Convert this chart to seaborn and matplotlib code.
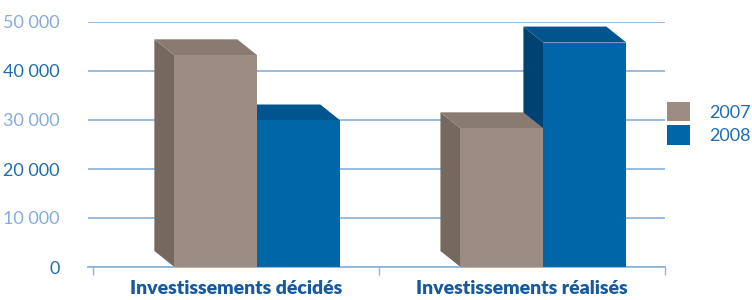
import numpy as np
import pandas as pd
import matplotlib.pyplot as plt
from matplotlib.patches import Polygon, Patch
import seaborn as sns

# data
categories = ["Investissements décidés", "Investissements réalisés"]
years = ["2007", "2008"]
values_2007 = [43200, 28300]
values_2008 = [29900, 45800]
y_ticks = [0, 10000, 20000, 30000, 40000, 50000]
y_tick_labels = ["0", "10 000", "20 000", "30 000", "40 000", "50 000"]

front_colors = {"2007": "#9c8c83", "2008": "#0066a6"}
side_colors = {"2007": "#76685f", "2008": "#004272"}
top_colors = {"2007": "#8a7b72", "2008": "#00558f"}
grid_color = "#8fb5dc"
light_blue = "#86acd9"
dark_blue = "#1f6db0"

df = pd.DataFrame({
    "categorie": categories * 2,
    "annee": [years[0]] * 2 + [years[1]] * 2,
    "valeur": values_2007 + values_2008,
})

sns.set_style("white")
plt.rcParams["font.family"] = ["Lato", "DejaVu Sans"]

fig = plt.figure(figsize=(7.52, 3.0), dpi=100)
ax = fig.add_axes([88 / 752, 33 / 300, 577 / 752, 245 / 300])

sns.barplot(data=df, x="categorie", y="valeur", hue="annee", order=categories,
            hue_order=years, palette=front_colors, width=0.58, dodge=True,
            legend=False, saturation=1, ax=ax, zorder=3)

# fake 3D: shift front faces, add side and top faces
shift = 0.075
dx = 0.07
dy = 3265
for year, cont in zip(years, ax.containers):
    z = 2 if year == "2007" else 1.5
    for p in cont.patches:
        p.set_x(p.get_x() + shift)
        p.set_edgecolor("none")
        x0, w, h = p.get_x(), p.get_width(), p.get_height()
        side = Polygon([(x0, 0), (x0, h), (x0 - dx, h + dy), (x0 - dx, dy)],
                       closed=True, facecolor=side_colors[year], edgecolor="none",
                       zorder=z, clip_on=False)
        top = Polygon([(x0, h), (x0 + w, h), (x0 + w - dx, h + dy), (x0 - dx, h + dy)],
                      closed=True, facecolor=top_colors[year], edgecolor="none",
                      zorder=z, clip_on=False)
        ax.add_patch(side)
        ax.add_patch(top)

ax.set_xlim(-0.517, 1.5)
ax.set_ylim(0, 50000)
ax.set_yticks(y_ticks)
ax.set_yticklabels(y_tick_labels)
ax.set_xticks([0, 1])
ax.set_xticklabels(categories, fontsize=14, fontweight="heavy", color="#17599c")
ax.set_xticks([-0.5, 0.5, 1.5], minor=True)
ax.tick_params(axis="x", which="major", bottom=False, length=0, pad=9)
ax.tick_params(axis="x", which="minor", bottom=True, length=6, width=1,
               color=grid_color, direction="out")
ax.tick_params(axis="y", left=False, pad=17, labelsize=13)
for i, lab in enumerate(ax.get_yticklabels()):
    lab.set_color(dark_blue if i % 2 == 0 else light_blue)

ax.set_xlabel("")
ax.set_ylabel("")
ax.yaxis.grid(True, color=grid_color, linewidth=1.3, zorder=0)
ax.set_axisbelow(True)
for s in ["top", "right", "left"]:
    ax.spines[s].set_visible(False)
ax.spines["bottom"].set_color(grid_color)
ax.spines["bottom"].set_linewidth(1.3)

handles = [Patch(facecolor=front_colors[y], edgecolor="none") for y in years]
fig.legend(handles, years, loc="upper left", bbox_to_anchor=(667 / 752, 1 - 102 / 300),
           frameon=False, fontsize=13, labelcolor=dark_blue, borderpad=0,
           borderaxespad=0, handlelength=1.27, handleheight=1.27,
           handletextpad=1.05, labelspacing=0.22)

fig.savefig("out.png", dpi=100)
